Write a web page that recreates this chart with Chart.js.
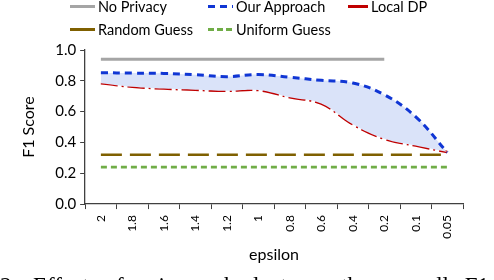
<!DOCTYPE html>
<html>
<head>
<meta charset="utf-8">
<script src="https://cdn.jsdelivr.net/npm/chart.js@4.4.0/dist/chart.umd.min.js"></script>
<style>
    body { margin: 0; background: #fff; }
    #wrap { position: relative; width: 494px; height: 280px; overflow: hidden; font-family: Lato, sans-serif; }
    #chart { position: absolute; left: 0; top: 0; }
    .leg { position: absolute; font-size: 14.5px; color: #000; line-height: 14px; white-space: nowrap; }
    .leg svg { position: absolute; left: 0; top: 0; }
    .leg span { position: absolute; top: 0; }
    #caption { position: absolute; left: 0; top: 274px; font-family: "Liberation Serif", serif; font-size: 23px; line-height: 23px; word-spacing: 10px; color: #000; white-space: nowrap; }
</style>
</head>
<body>
<div id="wrap">
    <canvas id="chart" width="494" height="280"></canvas>
    <div id="legend"></div>
    <div id="caption">2. Effect of privacy budget on the overall F1 score</div>
</div>
<script>
// data
const epsilons = ['2', '1.8', '1.6', '1.4', '1.2', '1', '0.8', '0.6', '0.4', '0.2', '0.1', '0.05'];
const noPrivacy = [0.94, 0.94, 0.94, 0.94, 0.94, 0.94, 0.94, 0.94, 0.94, 0.94, null, null];
const ourApproach = [0.853, 0.85, 0.848, 0.84, 0.827, 0.841, 0.823, 0.803, 0.786, 0.71, 0.566, 0.335];
const localDP = [0.785, 0.762, 0.75, 0.742, 0.735, 0.74, 0.693, 0.652, 0.518, 0.424, 0.38, 0.338];
const randomGuess = [0.32, 0.32, 0.32, 0.32, 0.32, 0.32, 0.32, 0.32, 0.32, 0.32, 0.32, 0.32];
const uniformGuess = [0.24, 0.24, 0.24, 0.24, 0.24, 0.24, 0.24, 0.24, 0.24, 0.24, 0.24, 0.24];
const yTicks = [0, 0.2, 0.4, 0.6, 0.8, 1.0];

const axisColor = '#404040';

// legend entries: label, colour, dash, x, y
const legendItems = [
    { label: 'No Privacy', color: '#a5a5a5', dash: '', x: 70, y: 0 },
    { label: 'Our Approach', color: '#1036d4', dash: '7 5', x: 208, y: 0 },
    { label: 'Local DP', color: '#c00000', dash: '', x: 348, y: 0, w: 20 },
    { label: 'Random Guess', color: '#7f6000', dash: '', x: 70, y: 23 },
    { label: 'Uniform Guess', color: '#70ad47', dash: '6 3', x: 208, y: 23 }
];

const legendBox = document.getElementById('legend');
legendItems.forEach(item => {
    const w = item.w || 25;
    const div = document.createElement('div');
    div.className = 'leg';
    div.style.left = item.x + 'px';
    div.style.top = item.y + 'px';
    div.innerHTML = `<svg width="${w}" height="14"><line x1="0" y1="6.5" x2="${w}" y2="6.5" stroke="${item.color}" stroke-width="3" stroke-dasharray="${item.dash}"/></svg><span style="left:${w + 3}px">${item.label}</span>`;
    legendBox.appendChild(div);
});

new Chart(document.getElementById('chart'), {
    type: 'line',
    data: {
        labels: epsilons,
        datasets: [
            {
                label: 'No Privacy',
                data: noPrivacy,
                borderColor: '#a5a5a5',
                borderWidth: 3,
                pointRadius: 0,
                spanGaps: false
            },
            {
                label: 'Our Approach',
                data: ourApproach,
                borderColor: '#1036d4',
                borderWidth: 3,
                borderDash: [7, 5],
                pointRadius: 0,
                tension: 0.4,
                fill: '+1',
                backgroundColor: '#dae3f9'
            },
            {
                label: 'Local DP',
                data: localDP,
                borderColor: '#c00000',
                borderWidth: 2.6,
                borderDash: [17, 4, 2, 4],
                pointRadius: 0,
                tension: 0.4
            },
            {
                label: 'Random Guess',
                data: randomGuess,
                borderColor: '#7f6000',
                borderWidth: 2.6,
                borderDash: [21, 8],
                pointRadius: 0
            },
            {
                label: 'Uniform Guess',
                data: uniformGuess,
                borderColor: '#70ad47',
                borderWidth: 2.6,
                borderDash: [6, 4],
                pointRadius: 0
            }
        ]
    },
    options: {
        responsive: false,
        animation: false,
        layout: {
            padding: { left: 19, right: 31, top: 50, bottom: 16 }
        },
        plugins: {
            legend: { display: false },
            tooltip: { enabled: false }
        },
        scales: {
            x: {
                offset: true,
                grid: {
                    offset: true,
                    drawOnChartArea: false,
                    drawTicks: true,
                    tickLength: 5,
                    color: axisColor
                },
                border: { color: axisColor, width: 1.3 },
                ticks: {
                    color: '#000',
                    minRotation: 90,
                    maxRotation: 90,
                    padding: 6,
                    font: { family: 'Lato', size: 12 }
                },
                title: {
                    display: true,
                    text: 'epsilon',
                    color: '#000',
                    padding: { top: 0, bottom: 0 },
                    font: { family: 'Lato', size: 16 }
                }
            },
            y: {
                min: 0,
                max: 1,
                afterBuildTicks: axis => {
                    axis.ticks = yTicks.map(v => ({ value: v }));
                },
                grid: {
                    drawOnChartArea: false,
                    drawTicks: true,
                    tickLength: 5,
                    color: axisColor
                },
                border: { color: axisColor, width: 1.3 },
                ticks: {
                    color: '#000',
                    padding: 4,
                    font: { family: 'Lato', size: 15 },
                    callback: v => v.toFixed(1)
                },
                title: {
                    display: true,
                    text: 'F1 Score',
                    color: '#000',
                    padding: { top: 0, bottom: 13 },
                    font: { family: 'Lato', size: 16 }
                }
            }
        }
    }
});
</script>
</body>
</html>
